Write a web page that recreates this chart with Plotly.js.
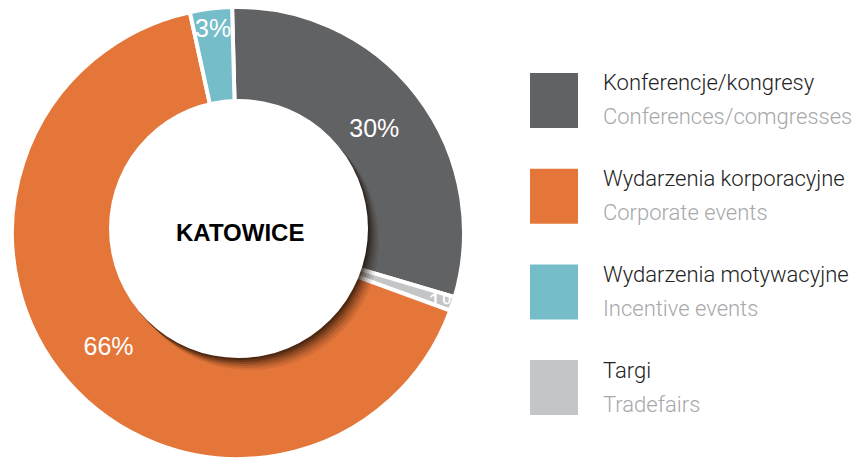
<!DOCTYPE html>
<html>
<head>
<meta charset="utf-8">
<script src="https://cdn.plot.ly/plotly-3.0.1.min.js"></script>
<style>html,body{margin:0;padding:0;background:#fff;}#chart{width:864px;height:460px;}</style>
</head>
<body>
<div id="chart"></div>
<script>
var categoriesPL = ["Konferencje/kongresy", "Targi", "Wydarzenia korporacyjne", "Wydarzenia motywacyjne"];
var categoriesEN = ["Conferences/comgresses", "Tradefairs", "Corporate events", "Incentive events"];
var values = [30, 1, 66, 3];
var colors = ["#616264", "#C4C5C7", "#E4763A", "#74BDC9"];
var legendOrder = [0, 2, 3, 1];
var centerLabel = "KATOWICE";

var W = 864, H = 460;
function px(x){ return x / W; }
function py(y){ return 1 - y / H; }

var trace = {
  type: "pie",
  values: values,
  labels: categoriesPL,
  marker: { colors: colors, line: { color: "#ffffff", width: 4 } },
  sort: false,
  direction: "clockwise",
  rotation: -1.5,
  hole: 0.52,
  textinfo: "percent",
  textposition: "inside",
  insidetextorientation: "horizontal",
  textfont: { family: "Liberation Sans, Arial, sans-serif", size: 25, color: "#ffffff" },
  domain: { x: [px(12), px(464)], y: [py(459), py(7)] },
  showlegend: false,
  hoverinfo: "label+percent"
};

var shapes = [];
// soft shadow of the centre disc (offset to lower right)
var sh = [[11, 12, 0.08], [9, 10, 0.11], [7, 8, 0.15], [5, 6, 0.2], [3, 4, 0.28], [1.5, 2, 0.35]];
sh.forEach(function(s){
  var cx = 238.5 + s[0], cy = 228.5 + s[1], r = 129.5;
  shapes.push({ type: "circle", xref: "paper", yref: "paper", layer: "above",
    x0: px(cx - r), x1: px(cx + r), y0: py(cy + r), y1: py(cy - r),
    fillcolor: "rgba(30,15,5," + s[2] + ")", line: { width: 0 } });
});
shapes.push({ type: "circle", xref: "paper", yref: "paper", layer: "above",
  x0: px(238.5 - 129.5), x1: px(238.5 + 129.5), y0: py(228.5 + 129.5), y1: py(228.5 - 129.5),
  fillcolor: "#ffffff", line: { width: 0 } });

var annotations = [{
  text: "<b>" + centerLabel + "</b>", xref: "paper", yref: "paper",
  x: px(239.5), y: py(232), xanchor: "center", yanchor: "middle", showarrow: false,
  font: { family: "Liberation Sans, Arial, sans-serif", size: 24, color: "#000000" }
}];

legendOrder.forEach(function(idx, k){
  var top = 73 + k * 95.7;
  shapes.push({ type: "rect", xref: "paper", yref: "paper", layer: "above",
    x0: px(530), x1: px(578), y0: py(top + 55), y1: py(top),
    fillcolor: colors[idx], line: { width: 0 } });
  annotations.push({ text: categoriesPL[idx], xref: "paper", yref: "paper",
    x: px(601), y: py(top + 10), xanchor: "left", yanchor: "middle", showarrow: false,
    font: { family: "Roboto, Liberation Sans, sans-serif", size: 22, color: "#222222", weight: 300 } });
  annotations.push({ text: categoriesEN[idx], xref: "paper", yref: "paper",
    x: px(601), y: py(top + 44), xanchor: "left", yanchor: "middle", showarrow: false,
    font: { family: "Roboto, Liberation Sans, sans-serif", size: 22, color: "#a6a8ab", weight: 300 } });
});

var layout = {
  width: W, height: H,
  margin: { l: 0, r: 0, t: 0, b: 0 },
  paper_bgcolor: "#ffffff",
  plot_bgcolor: "#ffffff",
  uniformtext: { minsize: 25, mode: "show" },
  shapes: shapes,
  annotations: annotations
};

Plotly.newPlot("chart", [trace], layout, { displayModeBar: false, staticPlot: true });
</script>
</body>
</html>
